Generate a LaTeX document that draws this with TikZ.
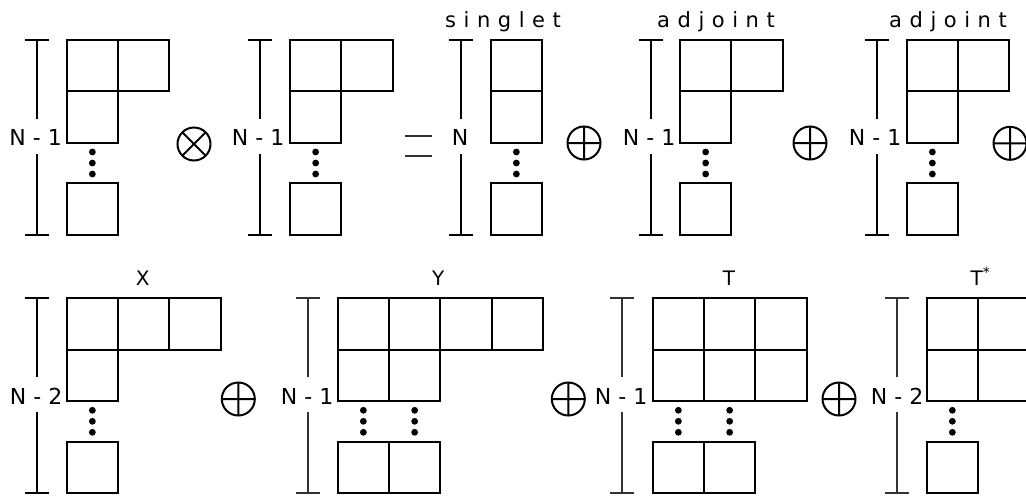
\documentclass[tikz,border=0pt]{standalone}
\usepackage{fontspec}
\setmainfont{DejaVu Sans}
\newcommand\myrow[3]{\foreach \i in {1,...,#3}{\draw[box] ({#1+(\i-1)*51.3},{#2}) rectangle ++(51.3,51.3);}}
\newcommand\mybracket[3]{\draw[brk,#3] ({#1-12},{#2}) -- ({#1+12},{#2}) ({#1},{#2}) -- ({#1},{#2+79}) ({#1},{#2+114}) -- ({#1},{#2+194.6}) ({#1-12},{#2+194.6}) -- ({#1+12},{#2+194.6});}
\newcommand\mydots[2]{\foreach \d in {112,123,134}{\fill ({#1},{#2+\d}) circle (3.4);}}
\newcommand\myoplus[2]{\draw[op] ({#1},{#2}) circle (16.5) ({#1-16.5},{#2}) -- ({#1+16.5},{#2}) ({#1},{#2-16.5}) -- ({#1},{#2+16.5});}
\newcommand\myotimes[2]{\draw[op] ({#1},{#2}) circle (16.5) ({#1-11.67},{#2-11.67}) -- ({#1+11.67},{#2+11.67}) ({#1-11.67},{#2+11.67}) -- ({#1+11.67},{#2-11.67});}
\begin{document}
\begin{tikzpicture}[x=1pt,y=-1pt,
  box/.style={line width=2pt,line join=miter},
  brk/.style={line width=2pt},
  op/.style={line width=2pt},
  lab/.style={inner sep=0pt,font=\fontsize{22}{26}\selectfont},
  ttl/.style={inner sep=0pt,font=\fontsize{20}{24}\selectfont},
  spc/.style={inner sep=0pt,font=\fontsize{21}{25}\selectfont\addfontfeature{LetterSpace=36}}]
\useasboundingbox (0,0) rectangle (1026,496);
\clip (0,0) rectangle (1026,496);
% ---------- top row ----------
% diagram 1
\mybracket{36.7}{40}{black}
\node[lab,anchor=base east] (t1) at (62,145) {N - 1};
\myrow{66.7}{40}{2}\myrow{66.7}{91.3}{1}\mydots{92.35}{40}\myrow{66.7}{183.3}{1}
\myotimes{194}{144}
% diagram 2
\mybracket{260}{40}{black}
\node[lab,anchor=base east] (t2) at (284.5,145) {N - 1};
\myrow{290}{40}{2}\myrow{290}{91.3}{1}\mydots{315.65}{40}\myrow{290}{183.3}{1}
\draw[line width=1.7pt,black!80] (405,136) -- (431.7,136) (405,156) -- (431.7,156);
% singlet
\node[spc,anchor=base] (s) at (503,27) {singlet};
\mybracket{460.7}{40}{black}
\node[lab,anchor=base] (t3) at (460,145) {N};
\myrow{490.7}{40}{1}\myrow{490.7}{91.3}{1}\mydots{516.35}{40}\myrow{490.7}{183.3}{1}
\myoplus{584}{143}
% adjoint 1
\node[spc,anchor=base] (a1) at (716,27) {adjoint};
\mybracket{650.5}{40}{black}
\node[lab,anchor=base east] (t4) at (675.5,145) {N - 1};
\myrow{680}{40}{2}\myrow{680}{91.3}{1}\mydots{705.65}{40}\myrow{680}{183.3}{1}
\myoplus{810}{143}
% adjoint 2
\node[spc,anchor=base] (a2) at (948,27) {adjoint};
\mybracket{877}{40}{black}
\node[lab,anchor=base east] (t5) at (901.5,145) {N - 1};
\myrow{906.7}{40}{2}\myrow{906.7}{91.3}{1}\mydots{932.35}{40}\myrow{906.7}{183.3}{1}
\myoplus{1010}{143.3}
% ---------- bottom row ----------
% X
\node[ttl,anchor=base] (X) at (142.7,285) {X};
\mybracket{36.7}{298.3}{black}
\node[lab,anchor=base east] (b1) at (62.5,404) {N - 2};
\myrow{66.7}{298.3}{3}\myrow{66.7}{349.6}{1}\mydots{92.35}{298.3}\myrow{66.7}{441.6}{1}
\myoplus{238.3}{399}
% Y
\node[ttl,anchor=base] (Y) at (438.3,285) {Y};
\mybracket{308.3}{298.3}{black!80}
\node[lab,anchor=base east] (b2) at (333.5,404) {N - 1};
\myrow{337.7}{298.3}{4}\myrow{337.7}{349.6}{2}\mydots{363.35}{298.3}\mydots{414.65}{298.3}\myrow{337.7}{441.6}{2}
\myoplus{568.3}{399}
% T
\node[ttl,anchor=base] (T) at (729,285) {T};
\mybracket{622.3}{298.3}{black!80}
\node[lab,anchor=base east] (b3) at (647.5,404) {N - 1};
\myrow{652.7}{298.3}{3}\myrow{652.7}{349.6}{3}\mydots{678.35}{298.3}\mydots{729.65}{298.3}\myrow{652.7}{441.6}{2}
\myoplus{839}{399}
% T*
\node[ttl,anchor=base west] (Ts) at (970.5,285) {T\textsuperscript{*}};
\mybracket{897.3}{298.3}{black!80}
\node[lab,anchor=base east] (b4) at (923.5,404) {N - 2};
\myrow{926.7}{298.3}{3}\myrow{926.7}{349.6}{3}\mydots{952.35}{298.3}\myrow{926.7}{441.6}{1}
\end{tikzpicture}
\end{document}
